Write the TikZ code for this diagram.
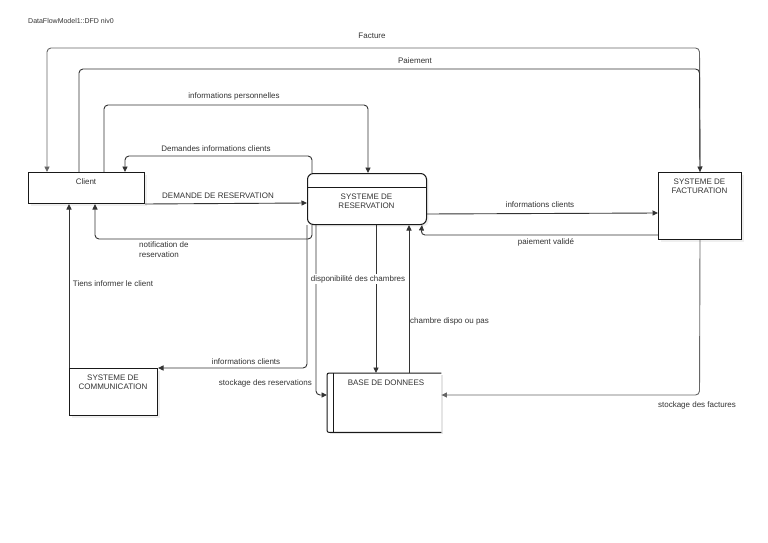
\documentclass[tikz,border=0pt]{standalone}
\usepackage{fontspec}
\setmainfont{Liberation Sans}
\usetikzlibrary{arrows.meta,calc,shadows}
\definecolor{ink}{HTML}{333333}
\definecolor{wire}{HTML}{333333}
\tikzset{
  lbl/.style={font=\fontsize{8}{9}\selectfont, text=ink, inner sep=1pt},
  boxtxt/.style={font=\fontsize{8}{8.5}\selectfont, text=ink, align=center, inner sep=0pt},
  proc/.style={draw=black!90, line width=1pt, fill=white, anchor=north west, inner sep=0pt,
    drop shadow={opacity=0.12, shadow xshift=2pt, shadow yshift=-2pt}},
  flow/.style={draw=wire, line width=0.9pt, rounded corners=4pt, -{Triangle[length=5.5pt,width=5pt]}},
}
\begin{document}
\begin{tikzpicture}[x=1pt,y=-1pt]
\useasboundingbox (0,0) rectangle (768,543);
\fill[white] (0,0) rectangle (768,543);

\node[lbl, font=\fontsize{7}{8}\selectfont, anchor=west] (title) at (27,21) {DataFlowModel1::DFD niv0};

% Nodes
\node[proc, minimum width=116pt, minimum height=31pt] (client) at (28,172) {};
\node[boxtxt] (clientL) at (86,182) {Client};

\node[proc, rounded corners=6pt, minimum width=119pt, minimum height=51pt] (res) at (307,173) {};
\draw[black!90, line width=1pt] ($(res.north west)+(0,14)$) -- ($(res.north east)+(0,14)$);
\node[boxtxt] (resL) at (366.5,201) {SYSTEME DE\\RESERVATION};

\node[proc, minimum width=83pt, minimum height=67pt] (fact) at (658,172) {};
\node[boxtxt] (factL) at (699.5,186) {SYSTEME DE\\FACTURATION};

\node[proc, minimum width=88pt, minimum height=47pt] (comm) at (69,368) {};
\node[boxtxt] (commL) at (113,382) {SYSTEME DE\\COMMUNICATION};

\node[anchor=north west, minimum width=114pt, minimum height=59pt, inner sep=0pt] (bd) at (327,373) {};
\fill[black!10] ($(bd.north east)+(0,2)$) rectangle ($(bd.south east)+(2,2)$);
\fill[black!10] ($(bd.south west)+(3,0)$) rectangle ($(bd.south east)+(2,2)$);
\draw[black!90, line width=1pt, rounded corners=2pt] (bd.north east) -- (bd.north west) -- (bd.south west) -- (bd.south east);
\draw[black!90, line width=1pt] ($(bd.north west)+(6,0)$) -- ($(bd.south west)+(6,0)$);
\node[boxtxt] (bdL) at (386,383) {BASE DE DONNEES};

% Connectors
\draw[flow, draw=black!60] (fact.north) -- (699.5,48) -- (47,48) -- ($(client.north west)+(19,0)$);
\node[lbl] (lFacture) at (372,36) {Facture};

\draw[flow] ($(client.north west)+(51,0)$) -- (79,69) -- (699.5,69) -- (fact.north);
\node[lbl] (lPaiement) at (415,61) {Paiement};

\draw[flow] ($(client.north west)+(76,0)$) -- (104,105) -- (368,105) -- ($(res.north west)+(61,0)$);
\node[lbl] (lInfoPers) at (234,96) {informations personnelles};

\draw[flow] ($(res.north west)+(5,0)$) -- (312,156) -- (125,156) -- ($(client.north west)+(97,0)$);
\node[lbl] (lDemInfo) at (216,149) {Demandes informations clients};

\draw[flow, rounded corners=0pt] (client.south east) -- ($(res.north west)+(0,30)$);
\node[lbl] (lDemRes) at (218,196) {DEMANDE DE RESERVATION};

\draw[flow] ($(res.south west)+(5,0)$) -- (312,239) -- (95,239) -- ($(client.south west)+(67,0)$);
\node[lbl, align=left, anchor=north west, font=\fontsize{8}{9.5}\selectfont] (lNotif) at (138,241) {notification de\\reservation};

\draw[flow] (comm.north west) -- ($(client.south west)+(41,0)$);
\node[lbl] (lTiens) at (113,284) {Tiens informer le client};

\draw[flow] (res.south west) -- (307,368) -- (comm.north east);
\node[lbl] (lInfoComm) at (246,362) {informations clients};

\draw[flow] ($(res.south west)+(9,0)$) -- (316,395) -- ($(bd.north west)+(0,22)$);
\node[lbl, anchor=east] (lStockRes) at (313,383) {stockage des reservations};

\draw[flow] ($(res.south west)+(69,0)$) -- ($(bd.north west)+(49,0)$);
\node[lbl, fill=white] (lDispo) at (358,279) {disponibilit\'e des chambres};

\draw[flow] ($(bd.north west)+(82,0)$) -- ($(res.south west)+(102,0)$);
\node[lbl, anchor=west] (lChambre) at (409,321) {chambre dispo ou pas};

\draw[flow, rounded corners=0pt] ($(res.north east)+(0,41)$) -- ($(fact.north west)+(0,41)$);
\node[lbl] (lInfoFact) at (540,205) {informations clients};

\draw[flow] ($(fact.north west)+(0,63)$) -- (421,235) -- ($(res.south east)+(-5,0)$);
\node[lbl] (lPaieVal) at (546,242) {paiement valid\'e};

\draw[flow, draw=black!60] (fact.south) -- (699.5,395) -- ($(bd.north east)+(0,22)$);
\node[lbl] (lStockFact) at (697,405) {stockage des factures};
\end{tikzpicture}
\end{document}
